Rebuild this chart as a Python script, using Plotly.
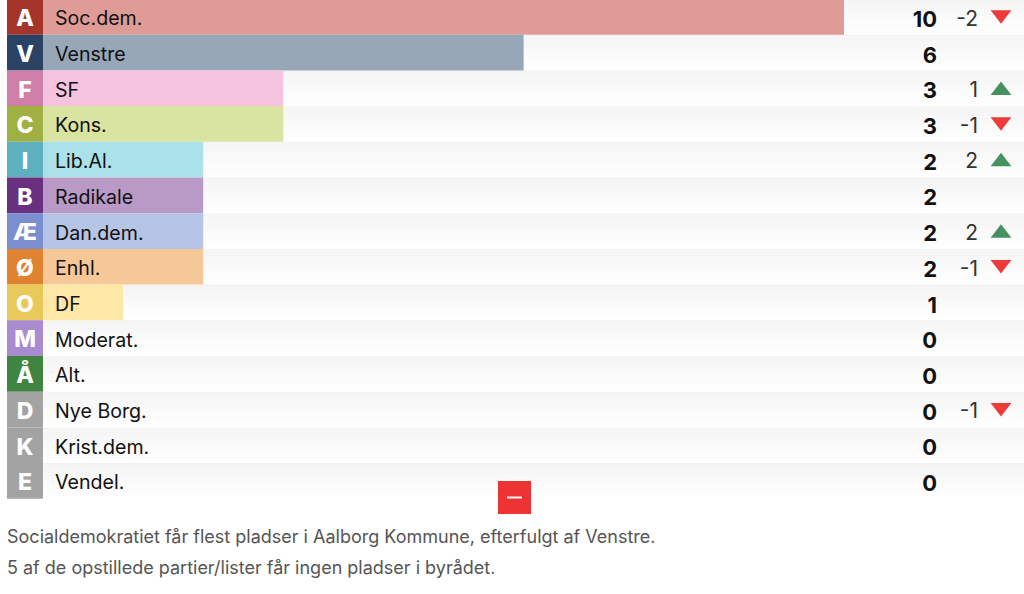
"""
Seat distribution chart, Aalborg Kommune
"""

import plotly.graph_objects as go

letters = ["A", "V", "F", "C", "I", "B", "Æ", "Ø", "O", "M", "Å", "D", "K", "E"]
parties = ["Soc.dem.", "Venstre", "SF", "Kons.", "Lib.Al.", "Radikale", "Dan.dem.",
           "Enhl.", "DF", "Moderat.", "Alt.", "Nye Borg.", "Krist.dem.", "Vendel."]
seats = [10, 6, 3, 3, 2, 2, 2, 2, 1, 0, 0, 0, 0, 0]
changes = [-2, None, 1, -1, 2, None, 2, -1, None, None, None, -1, None, None]

badge_colors = ["#a5352a", "#2a4365", "#d07fa8", "#a0b043", "#5fb0bf", "#6a3080", "#7b8fd0",
                "#e0822f", "#e9c95a", "#a98bcf", "#3f8440", "#a3a3a3", "#a3a3a3", "#a3a3a3"]
bar_colors = ["#df9c97", "#98a7b8", "#f5c2df", "#d9e4a0", "#abe1e8", "#b999c6", "#b6c4e5",
              "#f6c797", "#fde8a8", "#ffffff", "#ffffff", "#ffffff", "#ffffff", "#ffffff"]

captions = ["Socialdemokratiet får flest pladser i Aalborg Kommune, efterfulgt af Venstre.",
            "5 af de opstillede partier/lister får ingen pladser i byrådet."]

FONT = "Inter"
WIDTH, HEIGHT = 1024, 594
ROW_H = 35.7
TOP = -1
PX_PER_SEAT = 80.1
BAR_X0 = 43
STRIPS = 24
TEXT_DY = 0.1  # text sits a little under the row centre

rows = list(range(len(parties)))
text_y = [r + TEXT_DY for r in rows]
shapes = []
annotations = []

# grey fade behind every row, top to bottom
for r in rows:
    for s in range(STRIPS):
        grey = 243 + round(12 * s / (STRIPS - 1))
        shapes.append(dict(type="rect", layer="below", xref="x2", yref="y",
                           x0=7, x1=WIDTH,
                           y0=r - 0.5 + s / STRIPS, y1=r - 0.5 + (s + 1) / STRIPS,
                           fillcolor=f"rgb({grey},{grey},{grey})", line_width=0))

# letter badges
for r in rows:
    shapes.append(dict(type="rect", layer="below", xref="x2", yref="y",
                       x0=7, x1=BAR_X0, y0=r - 0.5, y1=r + 0.5,
                       fillcolor=badge_colors[r], line_width=0))

# red collapse button
shapes.append(dict(type="rect", xref="x2", yref="paper", x0=498, x1=531,
                   y0=1 - 514 / HEIGHT, y1=1 - 481 / HEIGHT,
                   fillcolor="#ee3333", line_width=0))
shapes.append(dict(type="rect", xref="x2", yref="paper", x0=507, x1=522,
                   y0=1 - 498.5 / HEIGHT, y1=1 - 496.5 / HEIGHT,
                   fillcolor="#ffffff", line_width=0))

for i, text in enumerate(captions):
    annotations.append(dict(text=text, xref="paper", yref="paper", showarrow=False,
                            x=5 / WIDTH, y=1 - (536 + i * 31) / HEIGHT,
                            xanchor="left", yanchor="middle",
                            font=dict(family=FONT, size=18, color="#555555")))

fig = go.Figure()

fig.add_trace(go.Bar(x=seats, y=rows, orientation="h", width=1,
                     marker=dict(color=bar_colors, line_width=0),
                     hoverinfo="skip"))

fig.add_trace(go.Scatter(x=[25] * len(rows), y=text_y, xaxis="x2", mode="text", text=letters,
                         textposition="middle center",
                         textfont=dict(family=FONT, size=23, color="#ffffff", weight=800)))

fig.add_trace(go.Scatter(x=[55] * len(rows), y=text_y, xaxis="x2", mode="text", text=parties,
                         textposition="middle right",
                         textfont=dict(family=FONT, size=19.6, color="#111111")))

fig.add_trace(go.Scatter(x=[937] * len(rows), y=[y + 0.03 for y in text_y], xaxis="x2", mode="text",
                         text=[str(v) for v in seats], textposition="middle left",
                         textfont=dict(family=FONT, size=22, color="#111111", weight=700)))

change_rows = [r for r in rows if changes[r] is not None]
fig.add_trace(go.Scatter(x=[978] * len(change_rows), y=[text_y[r] for r in change_rows], xaxis="x2",
                         mode="text", text=[str(changes[r]) for r in change_rows],
                         textposition="middle left",
                         textfont=dict(family=FONT, size=21, color="#333333")))

up_rows = [r for r in change_rows if changes[r] > 0]
down_rows = [r for r in change_rows if changes[r] < 0]
fig.add_trace(go.Scatter(x=[1001] * len(up_rows), y=[r + 0.06 for r in up_rows], xaxis="x2",
                         mode="markers",
                         marker=dict(symbol="triangle-up", size=18, color="#459160")))
fig.add_trace(go.Scatter(x=[1001] * len(down_rows), y=[r - 0.06 for r in down_rows], xaxis="x2",
                         mode="markers",
                         marker=dict(symbol="triangle-down", size=18, color="#ee3a3a")))

fig.update_layout(
    width=WIDTH,
    height=HEIGHT,
    margin=dict(l=0, r=0, t=0, b=0),
    paper_bgcolor="#ffffff",
    plot_bgcolor="#ffffff",
    showlegend=False,
    barmode="overlay",
    shapes=shapes,
    annotations=annotations,
    xaxis=dict(range=[-BAR_X0 / PX_PER_SEAT, (WIDTH - BAR_X0) / PX_PER_SEAT], visible=False),
    xaxis2=dict(range=[0, WIDTH], overlaying="x", visible=False),
    yaxis=dict(range=[(HEIGHT - TOP) / ROW_H - 0.5, -TOP / ROW_H - 0.5], visible=False),
)

# the page's default body margin would push the figure off its place
fig.write_html("out.html", config={"displayModeBar": False},
               post_script="document.body.style.margin='0';document.body.style.overflow='hidden';")
